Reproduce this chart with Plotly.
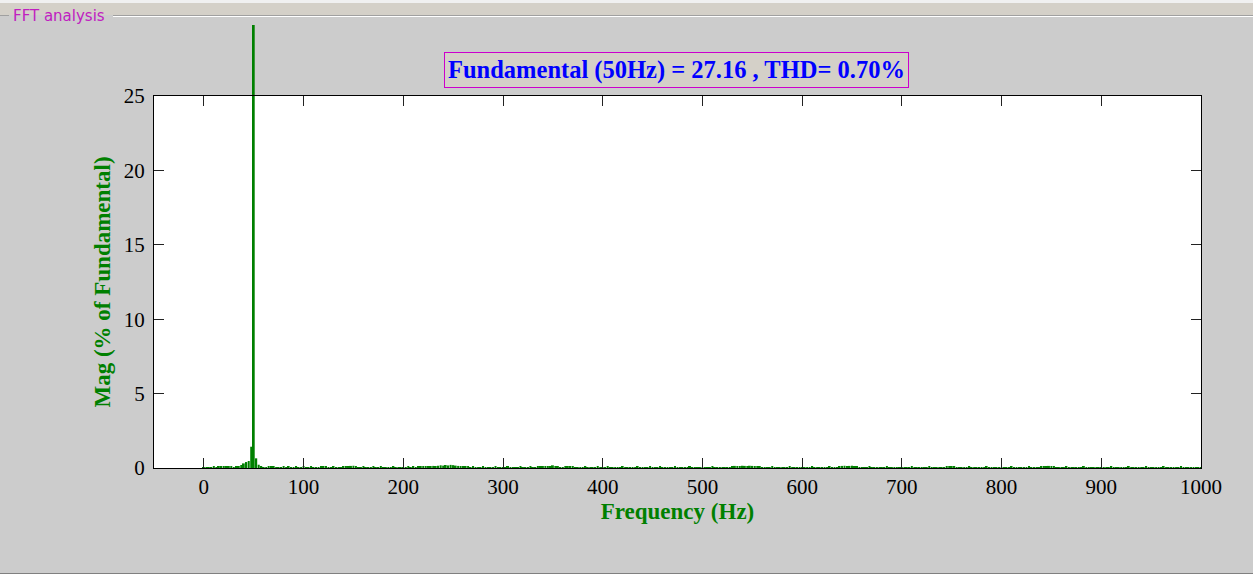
import plotly.graph_objects as go

# Canvas and plot-area geometry (pixels)
W, H = 1253, 576
ML, MR, MT, MB = 154, 52, 25, 108
BOX_TOP = 96  # pixel row of the top edge of the axes box

# Harmonic spectrum, magnitude in % of the 50 Hz fundamental, 2.5 Hz bins
freq_step = 2.5
mag_rows = [
    [0.04, 0.06, 0.06, 0.05, 0.07, 0.06, 0.12, 0.13, 0.07, 0.08, 0.13, 0.12, 0.06, 0.08, 0.12, 0.20, 0.31, 0.40, 0.47, 1.43],
    [100.0, 0.65, 0.22, 0.08, 0.06, 0.05, 0.07, 0.11, 0.08, 0.06, 0.06, 0.05, 0.07, 0.06, 0.08, 0.06, 0.05, 0.07, 0.06, 0.05],
    [0.08, 0.06, 0.05, 0.07, 0.06, 0.05, 0.06, 0.07, 0.10, 0.11, 0.06, 0.05, 0.07, 0.06, 0.05, 0.06, 0.08, 0.07, 0.12, 0.14],
    [0.15, 0.10, 0.06, 0.05, 0.07, 0.06, 0.05, 0.06, 0.08, 0.06, 0.05, 0.07, 0.06, 0.05, 0.06, 0.05, 0.07, 0.06, 0.05, 0.06],
    [0.06, 0.05, 0.07, 0.06, 0.08, 0.06, 0.07, 0.09, 0.10, 0.08, 0.11, 0.12, 0.14, 0.13, 0.15, 0.18, 0.16, 0.20, 0.17, 0.21],
    [0.19, 0.16, 0.14, 0.12, 0.10, 0.09, 0.07, 0.06, 0.08, 0.06, 0.05, 0.06, 0.07, 0.05, 0.06, 0.05, 0.06, 0.07, 0.05, 0.06],
    [0.06, 0.05, 0.07, 0.06, 0.05, 0.06, 0.05, 0.07, 0.06, 0.05, 0.06, 0.07, 0.05, 0.06, 0.08, 0.10, 0.12, 0.11, 0.10, 0.09],
    [0.18, 0.08, 0.07, 0.06, 0.05, 0.07, 0.10, 0.12, 0.09, 0.06, 0.05, 0.06, 0.05, 0.07, 0.06, 0.05, 0.06, 0.05, 0.07, 0.06],
    [0.06, 0.05, 0.07, 0.06, 0.05, 0.06, 0.05, 0.06, 0.07, 0.05, 0.06, 0.05, 0.06, 0.05, 0.07, 0.06, 0.05, 0.06, 0.05, 0.10],
    [0.06, 0.05, 0.06, 0.07, 0.05, 0.06, 0.05, 0.06, 0.05, 0.07, 0.06, 0.05, 0.06, 0.05, 0.06, 0.07, 0.05, 0.06, 0.05, 0.06],
    [0.06, 0.05, 0.06, 0.05, 0.07, 0.06, 0.05, 0.06, 0.05, 0.06, 0.06, 0.05, 0.12, 0.14, 0.12, 0.13, 0.15, 0.14, 0.13, 0.15],
    [0.14, 0.12, 0.13, 0.10, 0.06, 0.05, 0.06, 0.05, 0.07, 0.06, 0.05, 0.06, 0.05, 0.06, 0.05, 0.07, 0.06, 0.05, 0.06, 0.05],
    [0.06, 0.05, 0.06, 0.05, 0.07, 0.06, 0.05, 0.06, 0.05, 0.06, 0.05, 0.07, 0.06, 0.05, 0.06, 0.12, 0.14, 0.15, 0.13, 0.14],
    [0.15, 0.13, 0.12, 0.06, 0.05, 0.06, 0.05, 0.07, 0.06, 0.05, 0.06, 0.05, 0.06, 0.05, 0.07, 0.06, 0.05, 0.06, 0.05, 0.06],
    [0.06, 0.05, 0.06, 0.05, 0.07, 0.06, 0.05, 0.06, 0.05, 0.06, 0.05, 0.07, 0.06, 0.05, 0.06, 0.05, 0.06, 0.05, 0.10, 0.13],
    [0.12, 0.07, 0.05, 0.06, 0.05, 0.06, 0.05, 0.07, 0.06, 0.05, 0.06, 0.05, 0.06, 0.05, 0.07, 0.06, 0.05, 0.06, 0.05, 0.06],
    [0.06, 0.05, 0.06, 0.05, 0.07, 0.06, 0.05, 0.06, 0.05, 0.06, 0.05, 0.07, 0.06, 0.05, 0.06, 0.05, 0.08, 0.11, 0.12, 0.14],
    [0.12, 0.09, 0.06, 0.05, 0.06, 0.05, 0.07, 0.06, 0.05, 0.06, 0.05, 0.06, 0.05, 0.07, 0.06, 0.05, 0.06, 0.05, 0.06, 0.05],
    [0.06, 0.05, 0.06, 0.05, 0.07, 0.06, 0.05, 0.06, 0.05, 0.06, 0.05, 0.07, 0.06, 0.05, 0.06, 0.05, 0.06, 0.05, 0.07, 0.06],
    [0.05, 0.06, 0.05, 0.06, 0.05, 0.07, 0.06, 0.05, 0.06, 0.05, 0.06, 0.05, 0.07, 0.06, 0.05, 0.06, 0.05, 0.06, 0.05, 0.06],
    [0.05],
]
mag = [v for row in mag_rows for v in row]
freq = [i * freq_step for i in range(len(mag))]

x_ticks = [0, 100, 200, 300, 400, 500, 600, 700, 800, 900, 1000]
y_ticks = [0, 5, 10, 15, 20, 25]
x_range = [-50, 1000]
y_range = [0, 25]

fundamental_hz = 50
fundamental_value = 27.16
thd_percent = 0.70

panel_title = "FFT analysis"
x_title = "Frequency (Hz)"
y_title = "Mag (% of Fundamental)"

GREEN = "#008000"
PANEL_BG = "#CCCCCC"
FRAME_BG = "#D4D0C8"
SERIF = "Liberation Serif, Times New Roman, serif"

area_w = W - ML - MR
area_h = H - MT - MB
box_top = (H - MB - BOX_TOP) / area_h  # y-domain fraction of the axes box


def px(xp):
    return (xp - ML) / area_w


def py(yp):
    return (H - MB - yp) / area_h


fig = go.Figure()

# Bars sit on a full-height, hidden subplot (x/y) sharing the same scale
# as the framed axes (x2/y2), so the fundamental rises above the frame.
fig.add_trace(go.Bar(
    x=freq, y=mag, xaxis="x", yaxis="y",
    marker=dict(color=GREEN, line=dict(width=0)),
    hoverinfo="x+y",
))
# empty trace that registers the framed subplot
fig.add_trace(go.Scatter(x=[], y=[], xaxis="x2", yaxis="y2", showlegend=False))

shapes = [
    # white axes box
    dict(type="rect", xref="paper", yref="paper", x0=0, x1=1, y0=0, y1=box_top,
         fillcolor="white", line=dict(width=0), layer="below"),
    # window strip at the top
    dict(type="rect", xref="paper", yref="paper", x0=px(0), x1=px(W), y0=py(3), y1=py(15),
         fillcolor=FRAME_BG, line=dict(width=0), layer="below"),
    dict(type="rect", xref="paper", yref="paper", x0=px(0), x1=px(W), y0=py(0), y1=py(3),
         fillcolor="#F0F0F0", line=dict(width=0), layer="below"),
    # group-box border, broken by the panel title
    dict(type="line", xref="paper", yref="paper", x0=px(0), x1=px(9), y0=py(15.5), y1=py(15.5),
         line=dict(color="#A0A0A0", width=1)),
    dict(type="line", xref="paper", yref="paper", x0=px(113), x1=px(W), y0=py(15.5), y1=py(15.5),
         line=dict(color="#A0A0A0", width=1)),
    dict(type="line", xref="paper", yref="paper", x0=px(113), x1=px(W), y0=py(16.5), y1=py(16.5),
         line=dict(color="#FFFFFF", width=1)),
    dict(type="line", xref="paper", yref="paper", x0=px(0), x1=px(W), y0=py(573.5), y1=py(573.5),
         line=dict(color="#808080", width=1)),
    dict(type="rect", xref="paper", yref="paper", x0=px(0), x1=px(W), y0=py(576), y1=py(574),
         fillcolor="#FFFFFF", line=dict(width=0), layer="below"),
]

annotations = [
    dict(text=panel_title, xref="paper", yref="paper", x=px(11), y=py(16),
         xanchor="left", yanchor="middle", showarrow=False,
         font=dict(family="DejaVu Sans, Verdana, sans-serif", size=15, color="#C020C0")),
    dict(text=f"<b>Fundamental ({fundamental_hz}Hz) = {fundamental_value:.2f} , THD= {thd_percent:.2f}%</b>",
         xref="paper", yref="paper", x=px(676.5), y=py(70),
         xanchor="center", yanchor="middle", showarrow=False,
         font=dict(family=SERIF, size=24.5, color="#0000FF"),
         bgcolor=FRAME_BG, bordercolor="#CC00CC", borderwidth=1, borderpad=3),
]

axis_common = dict(
    showline=True, linecolor="black", linewidth=1, mirror="ticks",
    ticks="inside", ticklen=10, tickcolor="#222222", tickwidth=1,
    showgrid=False, zeroline=False,
    tickfont=dict(family=SERIF, size=21, color="black"),
)

fig.update_layout(
    width=W, height=H,
    margin=dict(l=ML, r=MR, t=MT, b=MB, pad=0),
    paper_bgcolor=PANEL_BG, plot_bgcolor="rgba(0,0,0,0)",
    showlegend=False, bargap=0.2,
    # hidden full-height axes carrying the bars
    xaxis=dict(range=x_range, domain=[0, 1], anchor="y", visible=False, fixedrange=True),
    yaxis=dict(range=[0, y_range[1] / box_top], domain=[0, 1], anchor="x",
               visible=False, fixedrange=True),
    # framed axes with ticks, labels and titles
    xaxis2=dict(range=x_range, tickvals=x_ticks, domain=[0, 1], anchor="y2",
                visible=True, **axis_common,
                title=dict(text=f"<b>{x_title}</b>", standoff=4,
                           font=dict(family=SERIF, size=23, color=GREEN))),
    yaxis2=dict(range=y_range, tickvals=y_ticks, domain=[0, box_top], anchor="x2",
                visible=True, ticklabelstandoff=4, **axis_common,
                title=dict(text=f"<b>{y_title}</b>", standoff=6,
                           font=dict(family=SERIF, size=23, color=GREEN))),
    shapes=shapes,
    annotations=annotations,
)

fig.write_html("out.html")
